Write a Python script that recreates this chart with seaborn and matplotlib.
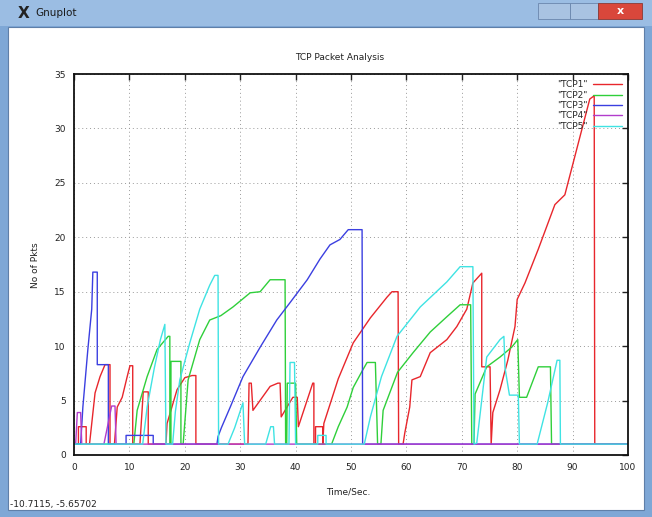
import numpy as np
import pandas as pd
import matplotlib
matplotlib.use("Agg")
import matplotlib.pyplot as plt
from matplotlib.patches import Rectangle
import seaborn as sns

# ── data (time in sec, packets) ──
tcp1_t = [0, 0.8, 0.8, 2.2, 2.2, 2.8, 3.8, 4.7, 5.6, 6.5, 6.5, 7.3, 7.8, 8.7, 9.6, 10.1, 10.6, 10.6,
          11.9, 12.5, 13.4, 13.4, 16.6, 16.8, 18.6, 20.0, 21.3, 22.0, 22.0,
          31.4, 31.6, 32.0, 32.3, 35.4, 36.8, 37.2, 37.4, 39.5, 40.3, 40.5, 43.1, 43.3, 43.3,
          43.6, 43.6, 44.9, 44.9, 45.1, 47.7, 50.4, 53.5, 56.5, 57.4, 58.5, 58.6,
          59.4, 59.7, 60.6, 61.0, 62.5, 64.3, 67.3, 69.1, 70.9, 72.0, 73.6, 73.6, 75.1, 75.3,
          75.6, 76.9, 78.3, 79.6, 80.0, 81.4, 83.8, 86.8, 88.6, 93.1, 93.9, 94.0, 100]
tcp1_n = [1, 1, 2.6, 2.6, 1, 1, 5.7, 7.2, 8.3, 8.3, 1, 1, 4.4, 5.3, 7.2, 8.2, 8.2, 1,
          1, 5.8, 5.8, 1, 1, 2.9, 6.0, 7.1, 7.3, 7.3, 1,
          1, 6.6, 6.6, 4.1, 6.3, 6.6, 6.6, 3.5, 5.3, 5.3, 2.6, 6.6, 6.6, 1,
          1, 2.6, 2.6, 1, 2.9, 7.0, 10.3, 12.6, 14.5, 15.0, 15.0, 1,
          1, 2.0, 4.4, 6.9, 7.2, 9.4, 10.6, 11.8, 13.4, 15.8, 16.7, 8.1, 8.1, 1,
          3.9, 6.0, 8.7, 11.8, 14.3, 15.8, 18.9, 23.0, 23.9, 32.7, 33.0, 1, 1]

tcp2_t = [0, 10.8, 11.4, 13.2, 15.0, 17.0, 17.3, 17.3, 17.5, 17.5, 19.3, 19.3,
          19.7, 20.6, 22.7, 24.5, 26.5, 28.7, 31.8, 33.6, 35.4, 38.1, 38.2,
          38.4, 38.5, 40.0, 40.2, 46.5, 47.7, 49.3, 50.4, 52.0, 52.9, 54.4, 54.8,
          55.4, 55.8, 58.4, 61.2, 64.3, 67.3, 69.7, 71.6, 71.8,
          72.2, 72.4, 74.5, 76.9, 79.0, 80.1, 80.4, 81.7, 83.8, 86.0, 86.2, 100]
tcp2_n = [1, 1, 4.1, 7.2, 9.7, 10.9, 10.9, 1, 1, 8.6, 8.6, 1,
          1, 6.9, 10.6, 12.4, 12.8, 13.6, 14.9, 15.0, 16.1, 16.1, 1,
          1, 6.6, 6.6, 1, 1, 2.6, 4.4, 6.2, 7.7, 8.5, 8.5, 1,
          1, 4.1, 7.6, 9.4, 11.3, 12.7, 13.8, 13.8, 1,
          1, 5.6, 8.1, 9.0, 9.9, 10.6, 5.3, 5.3, 8.1, 8.1, 1, 1]

tcp3_t = [0, 1.2, 1.6, 2.5, 3.2, 3.4, 4.2, 4.2, 6.2, 6.2, 9.4, 9.4, 14.3, 14.3,
          25.8, 26.0, 26.6, 28.2, 30.5, 33.6, 36.6, 39.0, 42.1, 44.4, 46.2, 48.0,
          49.5, 52.0, 52.1, 100]
tcp3_n = [1, 1, 4.4, 9.7, 13.4, 16.8, 16.8, 8.3, 8.3, 1, 1, 1.8, 1.8, 1,
          1, 1.7, 2.5, 4.4, 7.2, 9.9, 12.4, 14.0, 16.1, 18.0, 19.3, 19.8,
          20.7, 20.7, 1, 1]

tcp4_t = [0, 0.3, 0.6, 1.2, 1.4, 5.4, 6.0, 6.8, 7.4, 7.6, 100]
tcp4_n = [1, 1, 3.9, 3.9, 1, 1, 2.5, 4.5, 4.5, 1, 1]

tcp5_t = [0, 12.4, 13.2, 14.5, 15.6, 16.4, 16.6,
          17.8, 18.3, 19.1, 20.9, 22.7, 24.5, 25.4, 26.0, 26.1,
          27.8, 29.0, 30.5, 30.8, 34.6, 35.5, 36.0, 36.2, 38.8, 39.0, 39.8, 40.0,
          44.0, 44.0, 45.5, 45.5, 52.4, 53.5, 55.5, 58.3, 62.5, 67.3, 69.7, 72.0, 72.2,
          72.7, 74.5, 76.9, 77.6, 77.8, 78.6, 80.2, 80.4, 83.6, 85.5, 87.2, 87.7, 87.8, 100]
tcp5_n = [1, 1, 4.4, 8.0, 10.6, 12.0, 1,
          1, 4.0, 6.9, 10.3, 13.4, 15.6, 16.5, 16.5, 1,
          1, 2.5, 4.8, 1, 1, 2.6, 2.6, 1, 1, 8.5, 8.5, 1,
          1, 1.8, 1.8, 1, 1, 3.5, 7.2, 10.9, 13.6, 15.9, 17.3, 17.3, 1,
          1.1, 9.0, 10.6, 10.9, 8.0, 5.5, 5.5, 1, 1, 4.8, 8.7, 8.7, 1, 1]

labels = ['"TCP1"', '"TCP2"', '"TCP3"', '"TCP4"', '"TCP5"']
colors = ['#e8262c', '#2fcf3a', '#3b3fe0', '#b23ccc', '#3fe3e3']
x_ticks = list(range(0, 101, 10))
y_ticks = list(range(0, 36, 5))

frames = []
for lab, t, n in zip(labels, [tcp1_t, tcp2_t, tcp3_t, tcp4_t, tcp5_t],
                     [tcp1_n, tcp2_n, tcp3_n, tcp4_n, tcp5_n]):
    frames.append(pd.DataFrame({'time': t, 'pkts': n, 'conn': lab}))
df = pd.concat(frames, ignore_index=True)

# ── figure ──────────────────────────────────────────────────
sns.set_style("white")
plt.rcParams['font.family'] = ['DejaVu Sans']

W, H = 652, 517
fig = plt.figure(figsize=(W / 100, H / 100), dpi=100)
fig.patch.set_facecolor('#7ea7d6')


def px_rect(x0, y0, x1, y1, **kw):
    fig.add_artist(Rectangle((x0 / W, 1 - y1 / H), (x1 - x0) / W, (y1 - y0) / H,
                             transform=fig.transFigure, **kw))


# window chrome
px_rect(0, 0, W, 26, facecolor='#9bbde3', edgecolor='none', zorder=0)
px_rect(8, 27, 644, 510, facecolor='white', edgecolor='#5f7fa8', lw=0.8, zorder=0)
px_rect(538, 3, 570, 19, facecolor='#a9c3e2', edgecolor='#6a86ad', lw=0.6, zorder=1)
px_rect(570, 3, 598, 19, facecolor='#a9c3e2', edgecolor='#6a86ad', lw=0.6, zorder=1)
px_rect(598, 3, 642, 19, facecolor='#d9473b', edgecolor='#8a3a35', lw=0.6, zorder=1)
fig.text(18 / W, 1 - 13 / H, 'X', fontsize=11, fontweight='bold', color='#222222',
         va='center', ha='left')
fig.text(35 / W, 1 - 13 / H, 'Gnuplot', fontsize=7.5, color='#1a1a1a',
         va='center', ha='left')
fig.text(620 / W, 1 - 11 / H, 'x', fontsize=8, color='white', fontweight='bold',
         va='center', ha='center')

ax = fig.add_axes([74 / W, 1 - 455 / H, (628 - 74) / W, (455 - 74) / H])
ax.set_facecolor('white')

sns.lineplot(data=df, x='time', y='pkts', hue='conn', hue_order=labels,
             palette=colors, sort=False, estimator=None, linewidth=1.0, ax=ax)

ax.set_xlim(0, 100)
ax.set_ylim(0, 35)
ax.set_xticks(x_ticks)
ax.set_yticks(y_ticks)
ax.tick_params(direction='in', length=4, width=1, top=True, right=True,
               labelsize=6.5, pad=6, colors='#222222')
ax.grid(True, linestyle=(0, (1, 3)), color='#999999', linewidth=0.7)
for s in ax.spines.values():
    s.set_linewidth(1.3)
    s.set_color('#111111')
ax.set_xlabel('')
ax.set_ylabel('')

handles, labs = ax.get_legend_handles_labels()
ax.legend(handles, labs, loc='upper right', frameon=False, markerfirst=False,
          fontsize=6.5, handlelength=3.2, labelspacing=0.15, borderaxespad=0.3,
          handletextpad=0.6)

fig.text(340 / W, 1 - 57 / H, 'TCP Packet Analysis', fontsize=6.5, ha='center',
         va='center', color='#222222')
fig.text(36 / W, 1 - 265 / H, 'No of Pkts', fontsize=6.5, rotation=90,
         ha='center', va='center', color='#222222')
fig.text(348 / W, 1 - 492 / H, 'Time/Sec.', fontsize=6.5, ha='center',
         va='center', color='#222222')
fig.text(10 / W, 1 - 504 / H, '-10.7115, -5.65702', fontsize=6.5, ha='left',
         va='center', color='#222222')

fig.savefig('out.png', dpi=100)
